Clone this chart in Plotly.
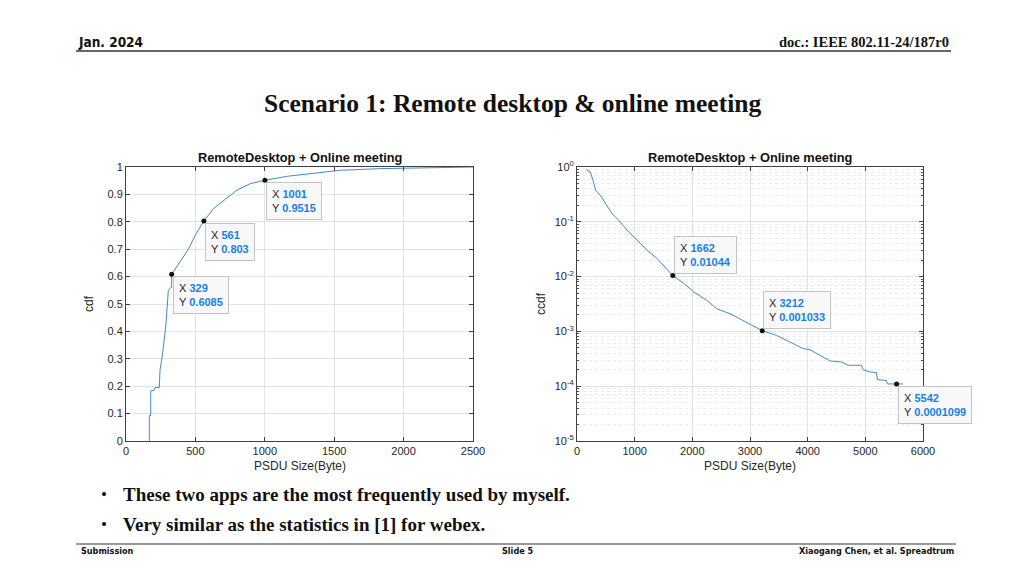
import math
import plotly.graph_objects as go

# ---------------- data ----------------
cdf_x = [168, 168, 178, 178, 202, 209, 240, 245, 262, 274, 286, 298, 305, 322, 329, 329,
         365, 413, 450, 498, 561, 630, 702, 798, 894, 1001, 1159, 1351, 1543, 1832, 2072, 2500]
cdf_y = [0, 0.093, 0.093, 0.183, 0.185, 0.195, 0.195, 0.258, 0.313, 0.367, 0.416, 0.5, 0.55, 0.56, 0.56, 0.6085,
         0.637, 0.67, 0.70, 0.75, 0.803, 0.848, 0.878, 0.915, 0.939, 0.9515, 0.966, 0.978, 0.988, 0.994, 0.997, 1.0]

ccdf_x = [162, 200, 231, 277, 323, 404, 490, 606, 721, 866, 1039, 1212, 1385, 1662, 1846, 2019, 2250, 2423,
          2654, 2971, 3212, 3462, 3750, 3924, 4039, 4212, 4385, 4587, 4702, 4933, 4962, 5077, 5192,
          5210, 5366, 5383, 5542, 5655]
ccdf_y = [0.9, 0.86, 0.81, 0.57, 0.377, 0.305, 0.215, 0.142, 0.107, 0.0706, 0.0464, 0.0305, 0.0215, 0.01044,
          0.0076, 0.0053, 0.0037, 0.0026, 0.0021, 0.00138, 0.001033, 0.000846, 0.000597, 0.000484,
          0.000464, 0.000366, 0.000289, 0.000277, 0.000241, 0.000241, 0.000201, 0.000182, 0.000177,
          0.000132, 0.000127, 0.0001099, 0.0001099, 0.0001099]

tips_left_x = [329, 561, 1001]
tips_left_y = [0.6085, 0.803, 0.9515]
tips_right_x = [1662, 3212, 5542]
tips_right_y = [0.01044, 0.001033, 0.0001099]
tips_right_above = [True, True, False]

left_xticks = [0, 500, 1000, 1500, 2000, 2500]
right_xticks = [0, 1000, 2000, 3000, 4000, 5000, 6000]
right_yticks = [1e-5, 1e-4, 1e-3, 1e-2, 1e-1, 1]
right_yticktext = ["10<sup>-5</sup>", "10<sup>-4</sup>", "10<sup>-3</sup>", "10<sup>-2</sup>",
                   "10<sup>-1</sup>", "10<sup>0</sup>"]

chart_title = "RemoteDesktop + Online meeting"
slide_title = "Scenario 1: Remote desktop & online meeting"
bullets = ["These two apps are the most frequently used by myself.",
           "Very similar as the statistics in [1] for webex."]

# ---------------- layout helpers ----------------
W, H = 1024, 576
OFF = 8  # page body margin offset
def px(x): return (x - OFF) / W
def py(y): return 1 - (y - OFF) / H

LINE = "#3f8cc9"
TXT = "#262626"
GRID = "#e3e3e3"
BLUE = "#1482e6"
SANS = "Liberation Sans, Arial, sans-serif"
NARROW = "Liberation Sans Narrow, DejaVu Sans Condensed, Arial Narrow, sans-serif"
SERIF = "Liberation Serif, Times New Roman, serif"

fig = go.Figure()
fig.add_trace(go.Scatter(x=cdf_x, y=cdf_y, mode="lines", line=dict(color=LINE, width=1),
                         xaxis="x", yaxis="y", showlegend=False, hoverinfo="skip"))
fig.add_trace(go.Scatter(x=tips_left_x, y=tips_left_y, mode="markers",
                         marker=dict(color="#111111", size=5), xaxis="x", yaxis="y",
                         showlegend=False, hoverinfo="skip"))
fig.add_trace(go.Scatter(x=ccdf_x, y=ccdf_y, mode="lines", line=dict(color=LINE, width=1),
                         xaxis="x2", yaxis="y2", showlegend=False, hoverinfo="skip"))
fig.add_trace(go.Scatter(x=tips_right_x, y=tips_right_y, mode="markers",
                         marker=dict(color="#111111", size=5), xaxis="x2", yaxis="y2",
                         showlegend=False, hoverinfo="skip"))

axis_common = dict(showline=True, linecolor="#404040", linewidth=1, mirror="ticks",
                   ticks="inside", ticklen=4, tickcolor="#404040", showgrid=True,
                   gridcolor=GRID, gridwidth=1, zeroline=False, automargin=False,
                   tickfont=dict(family=SANS, size=11, color=TXT))

ydom = [py(441), py(167)]
minor_vals = [m * 10 ** e for e in range(-5, 0) for m in range(2, 10)]

fig.update_layout(
    width=W, height=H, margin=dict(l=0, r=0, t=0, b=0, pad=0, autoexpand=False),
    paper_bgcolor="white", plot_bgcolor="white", showlegend=False,
    xaxis=dict(domain=[px(126), px(473)], range=[0, 2500], tickvals=left_xticks,
               anchor="y", **axis_common),
    yaxis=dict(domain=ydom, range=[0, 1], dtick=0.1, anchor="x", **axis_common),
    xaxis2=dict(domain=[px(577), px(923)], range=[0, 6000], tickvals=right_xticks,
                anchor="y2", **axis_common),
    yaxis2=dict(domain=ydom, type="log", range=[-5, 0], tickvals=right_yticks,
                ticktext=right_yticktext, anchor="x2",
                minor=dict(tickmode="array", tickvals=minor_vals, showgrid=True,
                           gridcolor="#ebebeb", griddash="dot", ticks="inside",
                           ticklen=2, tickcolor="#505050"),
                **axis_common),
)

ann = []
def tip(xv, yv, xref, yref, above, yval_for_pos):
    text = (f"X <span style='color:{BLUE}'><b>{xv}</b></span><br>"
            f"Y <span style='color:{BLUE}'><b>{yv}</b></span>")
    return dict(x=xv, y=yval_for_pos, xref=xref, yref=yref, text=text, showarrow=False,
                xanchor="left", yanchor="bottom" if above else "top", align="left",
                xshift=1, yshift=2 if above else -2,
                bgcolor="#f8f8fb", bordercolor="#c4c4c4", borderwidth=1, borderpad=5,
                font=dict(family=SANS, size=11, color=TXT))

for xv, yv in zip(tips_left_x, tips_left_y):
    ann.append(tip(xv, yv, "x", "y", False, yv))
for xv, yv, ab in zip(tips_right_x, tips_right_y, tips_right_above):
    ann.append(tip(xv, yv, "x2", "y2", ab, math.log10(yv)))

def txt(x, y, text, family, size, color="#111111", xanchor="center", angle=0):
    return dict(x=px(x), y=py(y), xref="paper", yref="paper", text=text, showarrow=False,
                xanchor=xanchor, yanchor="middle", textangle=angle,
                font=dict(family=family, size=size, color=color))

# chart titles and axis titles
for cx in (300, 750):
    ann.append(txt(cx, 157, f"<b>{chart_title}</b>", SANS, 12.8))
    ann.append(txt(cx, 466, "PSDU Size(Byte)", SANS, 12, TXT))
ann.append(txt(89, 304, "cdf", SANS, 12, TXT, angle=-90))
ann.append(txt(541, 304, "ccdf", SANS, 12, TXT, angle=-90))

# slide text
ann.append(txt(76, 42, "<b>Jan. 2024</b>", NARROW, 13.5, xanchor="left"))
ann.append(txt(951, 42, "<b>doc.: IEEE 802.11-24/187r0</b>", SERIF, 14.5, xanchor="right"))
ann.append(txt(512, 103, f"<b>{slide_title}</b>", SERIF, 25.5))
for i, b in enumerate(bullets):
    yy = 494 + 30 * i
    ann.append(txt(104, yy, "•", SERIF, 17))
    ann.append(txt(121, yy, f"<b>{b}</b>", SERIF, 19, xanchor="left"))
ann.append(txt(79, 551, "<b>Submission</b>", NARROW, 9, xanchor="left"))
ann.append(txt(517, 551, "<b>Slide 5</b>", NARROW, 9))
ann.append(txt(956, 551, "<b>Xiaogang Chen, et al. Spreadtrum</b>", NARROW, 9, xanchor="right"))

fig.update_layout(annotations=ann)
fig.update_layout(shapes=[
    dict(type="line", xref="paper", yref="paper", x0=px(76), x1=px(951), y0=py(51), y1=py(51),
         line=dict(color="#333333", width=1.5)),
    dict(type="line", xref="paper", yref="paper", x0=px(76), x1=px(956), y0=py(544), y1=py(544),
         line=dict(color="#777777", width=1.5)),
])

fig.write_html("out.html")
